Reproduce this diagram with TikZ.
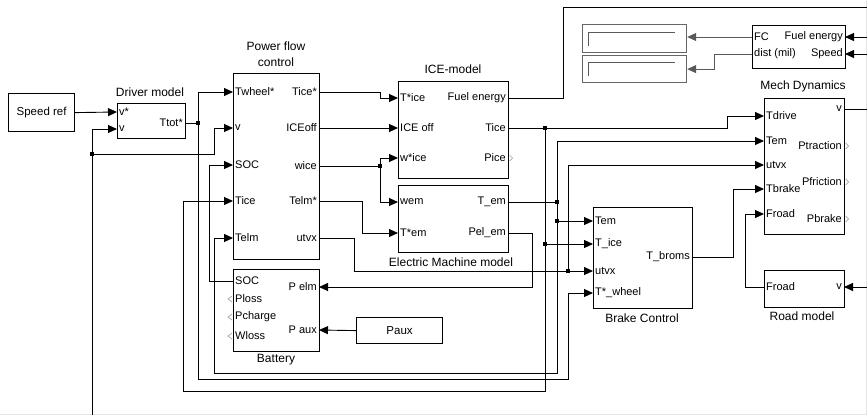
\documentclass[tikz,border=0pt]{standalone}
\usepackage{fontspec}
\setmainfont{Liberation Sans}
\usetikzlibrary{arrows.meta,calc}

\begin{document}
\begin{tikzpicture}[
    x=1pt, y=-1pt,
    block/.style={rectangle, draw, line width=1.2pt, inner sep=0pt, anchor=north west, font=\fontsize{11.5}{13}\selectfont},
    display/.style={rectangle, draw=gray!80!black, line width=1.2pt, inner sep=0pt, anchor=north west},
    title/.style={inner sep=0pt, font=\fontsize{12}{16}\selectfont, align=center},
    portin/.style={anchor=west, inner sep=2pt, font=\fontsize{11}{12}\selectfont},
    portout/.style={anchor=east, inner sep=2pt, font=\fontsize{11}{12}\selectfont},
    sig/.style={line width=0.9pt, -{Triangle[length=9pt, width=8pt]}},
    wire/.style={line width=0.9pt},
    junc/.style={rectangle, fill, minimum size=3.5pt, inner sep=0pt},
    unused/.style={draw=gray!70, line width=0.7pt}
]
\useasboundingbox (0,0) rectangle (867,415);

% window frame
\draw[gray!20, line width=1pt] (0,414) -- (866,414) -- (866,0);

% Speed ref
\node (sref) at (8,93) [block, minimum width=66pt, minimum height=38pt] {Speed ref};

% Driver model
\node (drv) at (117,103) [block, minimum width=68pt, minimum height=35pt] {};
\node at (150,92) [title] {Driver model};
\node (drv-vref) at (117,112) [portin] {v*};
\node (drv-v) at (117,129) [portin] {v};
\node (drv-ttot) at (185,123) [portout] {Ttot*};

% Power flow control
\node (pfc) at (233,73) [block, minimum width=86pt, minimum height=186pt] {};
\node at (276,54) [title] {Power flow\\control};
\node (pfc-twheel) at (233,92) [portin] {Twheel*};
\node (pfc-v) at (233,128) [portin] {v};
\node (pfc-soc) at (233,165) [portin] {SOC};
\node (pfc-tice) at (233,201) [portin] {Tice};
\node (pfc-telm) at (233,238) [portin] {Telm};
\node (pfc-tices) at (319,92) [portout] {Tice*};
\node (pfc-iceoff) at (319,128) [portout] {ICEoff};
\node (pfc-wice) at (319,166) [portout] {wice};
\node (pfc-telms) at (319,201) [portout] {Telm*};
\node (pfc-utvx) at (319,238) [portout] {utvx};

% Battery
\node (bat) at (233,269) [block, minimum width=86pt, minimum height=82pt] {};
\node at (276,360) [title] {Battery};
\node (bat-soc) at (233,281) [portin] {SOC};
\node (bat-ploss) at (233,299) [portin] {Ploss};
\node (bat-pcharge) at (233,317) [portin] {Pcharge};
\node (bat-wloss) at (233,336) [portin] {Wloss};
\node (bat-pelm) at (319,287) [portout] {P elm};
\node (bat-paux) at (319,330) [portout] {P aux};

% Paux
\node (paux) at (356,317) [block, minimum width=86pt, minimum height=26pt] {Paux};

% ICE-model
\node (ice) at (398,81) [block, minimum width=110pt, minimum height=97pt] {};
\node at (453,69) [title] {ICE-model};
\node (ice-ticein) at (398,98) [portin] {T*ice};
\node (ice-iceoff) at (398,128) [portin] {ICE off};
\node (ice-wice) at (398,158) [portin] {w*ice};
\node (ice-fuel) at (508,98) [portout] {Fuel energy};
\node (ice-tice) at (508,128) [portout] {Tice};
\node (ice-pice) at (508,158) [portout] {Pice};

% Electric Machine model
\node (em) at (398,185) [block, minimum width=110pt, minimum height=67pt] {};
\node at (451,262) [title] {Electric Machine model};
\node (em-wem) at (398,202) [portin] {wem};
\node (em-tems) at (398,233) [portin] {T*em};
\node (em-tem) at (508,202) [portout] {T\_em};
\node (em-pel) at (508,233) [portout] {Pel\_em};

% Brake Control
\node (brk) at (593,207) [block, minimum width=99pt, minimum height=101pt] {};
\node at (642,318) [title] {Brake Control};
\node (brk-tem) at (593,221) [portin] {Tem};
\node (brk-tice) at (593,244) [portin] {T\_ice};
\node (brk-utvx) at (593,271) [portin] {utvx};
\node (brk-twheel) at (593,293) [portin] {T*\_wheel};
\node (brk-tbroms) at (692,257) [portout] {T\_broms};

% Mech Dynamics
\node (mech) at (764,98) [block, minimum width=80pt, minimum height=136pt] {};
\node at (803,86) [title] {Mech Dynamics};
\node (mech-tdrive) at (764,116) [portin] {Tdrive};
\node (mech-tem) at (764,141) [portin] {Tem};
\node (mech-utvx) at (764,165) [portin] {utvx};
\node (mech-tbrake) at (764,189) [portin] {Tbrake};
\node (mech-froad) at (764,214) [portin] {Froad};
\node (mech-v) at (844,109) [portout] {v};
\node (mech-ptr) at (844,146) [portout] {Ptraction};
\node (mech-pfr) at (844,182) [portout] {Pfriction};
\node (mech-pbr) at (844,219) [portout] {Pbrake};

% Road model
\node (road) at (764,270) [block, minimum width=80pt, minimum height=37pt] {};
\node at (802,316) [title] {Road model};
\node (road-froad) at (764,287) [portin] {Froad};
\node (road-v) at (844,287) [portout] {v};

% FC block and displays
\node (fc) at (752,25) [block, minimum width=93pt, minimum height=43pt] {};
\node (fc-fc) at (752,37) [portin] {FC};
\node (fc-dist) at (752,54) [portin] {dist (mil)};
\node (fc-fe) at (845,37) [portout] {Fuel energy};
\node (fc-speed) at (845,54) [portout] {Speed};
\node (disp1) at (582,24) [display, minimum width=104pt, minimum height=28pt] {};
\node (disp2) at (582,55) [display, minimum width=104pt, minimum height=27pt] {};
\draw[gray!70!black, line width=0.9pt] (588,46) |- (675,32);
\draw[gray!70!black, line width=0.9pt] (588,76) |- (675,62);

% free ends at the picture border
\coordinate (vbus) at (92,415);
\coordinate (edge-top) at (867,7);
\coordinate (edge-fe) at (867,37);
\coordinate (edge-speed) at (867,54);
\coordinate (edge-v) at (867,109);
\coordinate (edge-road) at (867,287);

% junctions
\node (jv) at (92,154) [junc] {};
\node (jt) at (198,123) [junc] {};
\node (jw) at (380,166) [junc] {};
\node (jtice) at (545,128) [junc] {};
\node (jtice2) at (545,244) [junc] {};
\node (jtem) at (557,202) [junc] {};
\node (jtem2) at (557,221) [junc] {};
\node (jutvx) at (568,271) [junc] {};

% driver and power flow signals
\draw[sig] (sref.east) -- (drv-vref.west);
\draw[sig] (vbus) |- (drv-v.west);
\draw[sig] (jv.center) -- ++(122,0) |- (pfc-v.west);
\draw[wire] (drv-ttot.east) -- (jt.center);
\draw[sig] (jt.center) |- (pfc-twheel.west);
\draw[sig] (jt.center) -- ++(0,256) -- ++(370,0) |- (brk-twheel.west);
\draw[sig] (bat-soc.west) -- ++(-24,0) |- (pfc-soc.west);
\draw[sig] (jtice.center) -- ++(0,263) -- ++(-362,0) |- (pfc-tice.west);
\draw[sig] (jtem.center) -- ++(0,171) -- ++(-343,0) |- (pfc-telm.west);

% engine and machine inputs
\draw[sig] (pfc-tices.east) -- ++(61,0) |- (ice-ticein.west);
\draw[sig] (pfc-iceoff.east) -- (ice-iceoff.west);
\draw[wire] (pfc-wice.east) -- (jw.center);
\draw[sig] (jw.center) |- (ice-wice.west);
\draw[sig] (jw.center) |- (em-wem.west);
\draw[sig] (pfc-telms.east) -- ++(43,0) |- (em-tems.west);

% battery power
\draw[sig] (em-pel.east) -- ++(24,0) |- (bat-pelm.east);
\draw[sig] (paux.west) -- (bat-paux.east);

% torques to brake control and mech dynamics
\draw[sig] (ice-tice.east) -- ++(219,0) |- (mech-tdrive.west);
\draw[sig] (jtice2.center) -- (brk-tice.west);
\draw[wire] (jtice.center) -- (jtice2.center);
\draw[wire] (em-tem.east) -- (jtem.center);
\draw[sig] (jtem.center) |- (mech-tem.west);
\draw[sig] (jtem2.center) -- (brk-tem.west);
\draw[sig] (pfc-utvx.east) -- ++(35,0) |- (brk-utvx.west);
\draw[sig] (jutvx.center) |- (mech-utvx.west);
\draw[sig] (brk-tbroms.east) -- ++(41,0) |- (mech-tbrake.west);
\draw[sig] (road-froad.west) -- ++(-19,0) |- (mech-froad.west);

% fuel and speed
\draw[wire] (ice-fuel.east) -- ++(55,0) |- (edge-top);
\draw[sig] (edge-fe) -- (fc-fe.east);
\draw[sig] (edge-speed) -- (fc-speed.east);
\draw[wire] (mech-v.east) -- (edge-v);
\draw[sig] (edge-road) -- (road-v.east);
\draw[sig, gray!70!black] (fc-fc.west) -- (disp1.east |- fc-fc.west);
\draw[sig, gray!70!black] (fc-dist.west) -- ++(-38,0) |- (disp2.east);

% unconnected ports
\foreach \p in {ice-pice, mech-ptr, mech-pfr, mech-pbr}
  \draw[unused] ($(\p.east)+(1.5,-3)$) -- ++(3,3) -- ++(-3,3);
\foreach \p in {bat-ploss, bat-pcharge, bat-wloss}
  \draw[unused] ($(\p.west)+(-1,-3)$) -- ++(-4,3) -- ++(4,3);

\end{tikzpicture}
\end{document}
